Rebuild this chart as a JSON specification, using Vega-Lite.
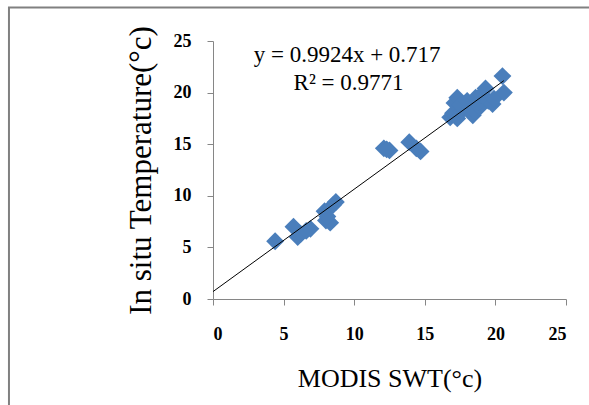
{
  "$schema": "https://vega.github.io/schema/vega-lite/v6.json",
  "autosize": "none",
  "width": 353,
  "height": 258,
  "padding": {"left": 213, "top": 41, "right": 23, "bottom": 106},
  "background": "white",
  "config": {
    "view": {"stroke": null},
    "font": "Liberation Serif"
  },
  "datasets": {
    "obs": [
      {"modis": 4.4, "insitu": 5.6},
      {"modis": 5.7, "insitu": 7.0},
      {"modis": 6.0, "insitu": 6.0},
      {"modis": 6.2, "insitu": 6.3},
      {"modis": 6.6, "insitu": 6.6},
      {"modis": 6.9, "insitu": 6.8},
      {"modis": 7.9, "insitu": 8.5},
      {"modis": 8.0, "insitu": 7.6},
      {"modis": 8.3, "insitu": 7.4},
      {"modis": 8.1, "insitu": 8.0},
      {"modis": 8.7, "insitu": 9.4},
      {"modis": 8.5, "insitu": 9.1},
      {"modis": 12.1, "insitu": 14.6},
      {"modis": 12.5, "insitu": 14.4},
      {"modis": 12.3, "insitu": 14.5},
      {"modis": 13.9, "insitu": 15.2},
      {"modis": 14.7, "insitu": 14.3},
      {"modis": 14.4, "insitu": 14.6},
      {"modis": 16.8, "insitu": 17.6},
      {"modis": 17.0, "insitu": 18.0},
      {"modis": 17.3, "insitu": 17.5},
      {"modis": 17.1, "insitu": 19.0},
      {"modis": 17.3, "insitu": 19.5},
      {"modis": 17.6, "insitu": 18.2},
      {"modis": 17.5, "insitu": 18.8},
      {"modis": 18.0, "insitu": 19.2},
      {"modis": 18.2, "insitu": 18.6},
      {"modis": 18.4, "insitu": 17.8},
      {"modis": 18.5, "insitu": 18.2},
      {"modis": 18.6, "insitu": 19.5},
      {"modis": 18.9, "insitu": 18.6},
      {"modis": 18.8, "insitu": 19.1},
      {"modis": 19.0, "insitu": 19.8},
      {"modis": 19.3, "insitu": 20.4},
      {"modis": 19.5, "insitu": 19.2},
      {"modis": 19.8, "insitu": 18.9},
      {"modis": 19.9, "insitu": 19.4},
      {"modis": 20.5, "insitu": 21.6},
      {"modis": 20.6, "insitu": 20.0}
    ],
    "trend": [
      {"modis": 0, "insitu": 0.717},
      {"modis": 20.6, "insitu": 21.16}
    ],
    "one": [{}]
  },
  "layer": [
    {
      "data": {"name": "one"},
      "mark": {"type": "rect", "fill": null, "stroke": "#808080", "strokeWidth": 2, "clip": false},
      "encoding": {
        "x": {"datum": -14.45, "type": "quantitative"},
        "x2": {"datum": 30},
        "y": {"datum": 28.25, "type": "quantitative"},
        "y2": {"datum": -15}
      }
    },
    {
      "data": {"name": "obs"},
      "mark": {"type": "point", "shape": "diamond", "filled": true, "color": "#4a7ebb", "size": 320, "opacity": 1},
      "encoding": {
        "x": {
          "field": "modis", "type": "quantitative",
          "scale": {"domain": [0, 25], "nice": false, "zero": true},
          "axis": {
            "title": "MODIS SWT(°c)",
            "values": [0, 5, 10, 15, 20, 25],
            "grid": false,
            "domainColor": "#868686",
            "tickColor": "#868686",
            "tickSize": 6,
            "labelPadding": 20,
            "labelFont": "Liberation Serif",
            "labelFontWeight": "bold",
            "labelFontSize": 18,
            "labelColor": "black",
            "titleFont": "Liberation Serif",
            "titleFontWeight": "normal",
            "titleFontSize": 26,
            "titleColor": "black",
            "titlePadding": 22
          }
        },
        "y": {
          "field": "insitu", "type": "quantitative",
          "scale": {"domain": [0, 25], "nice": false},
          "axis": {
            "title": "In situ Temperature(°c)",
            "values": [0, 5, 10, 15, 20, 25],
            "grid": false,
            "domainColor": "#868686",
            "tickColor": "#868686",
            "tickSize": 6,
            "labelPadding": 16,
            "labelFont": "Liberation Serif",
            "labelFontWeight": "bold",
            "labelFontSize": 18,
            "labelColor": "black",
            "titleFont": "Liberation Serif",
            "titleFontWeight": "normal",
            "titleFontSize": 31,
            "titleColor": "black",
            "titlePadding": 16
          }
        }
      }
    },
    {
      "data": {"name": "trend"},
      "mark": {"type": "line", "color": "black", "strokeWidth": 1},
      "encoding": {
        "x": {"field": "modis", "type": "quantitative"},
        "y": {"field": "insitu", "type": "quantitative"}
      }
    },
    {
      "data": {"name": "one"},
      "mark": {"type": "text", "font": "Liberation Serif", "fontSize": 23, "color": "black", "align": "center", "baseline": "middle"},
      "encoding": {
        "x": {"datum": 9.5, "type": "quantitative"},
        "y": {"datum": 23.6, "type": "quantitative"},
        "text": {"value": "y = 0.9924x + 0.717"}
      }
    },
    {
      "data": {"name": "one"},
      "mark": {"type": "text", "font": "Liberation Serif", "fontSize": 23, "color": "black", "align": "center", "baseline": "middle"},
      "encoding": {
        "x": {"datum": 9.6, "type": "quantitative"},
        "y": {"datum": 20.9, "type": "quantitative"},
        "text": {"value": "R² = 0.9771"}
      }
    }
  ]
}
